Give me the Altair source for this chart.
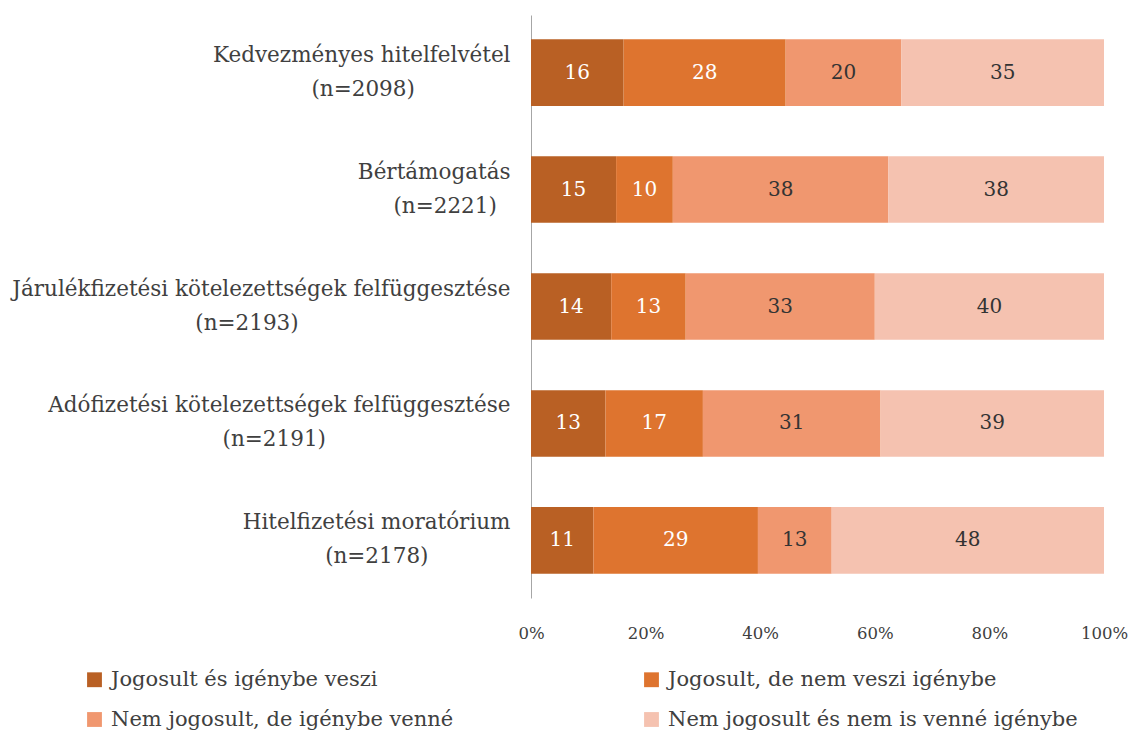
import altair as alt
import pandas as pd

categories = [
    "Kedvezményes hitelfelvétel|(n=2098)",
    "Bértámogatás|(n=2221)",
    "Járulékfizetési kötelezettségek felfüggesztése|(n=2193)",
    "Adófizetési kötelezettségek felfüggesztése|(n=2191)",
    "Hitelfizetési moratórium|(n=2178)",
]
series = [
    "Jogosult és igénybe veszi",
    "Jogosult, de nem veszi igénybe",
    "Nem jogosult, de igénybe venné",
    "Nem jogosult és nem is venné igénybe",
]
s1 = [16, 15, 14, 13, 11]
s2 = [28, 10, 13, 17, 29]
s3 = [20, 38, 33, 31, 13]
s4 = [35, 38, 40, 39, 48]
colors = ["#B96024", "#DE742F", "#F0976F", "#F5C2B0"]
x_ticks = [0, 0.2, 0.4, 0.6, 0.8, 1.0]

rows = []
for i, c in enumerate(categories):
    for j, vals in enumerate([s1, s2, s3, s4]):
        rows.append({"cat": c, "series": series[j], "order": j, "value": vals[i]})
df = pd.DataFrame(rows)

FONT = "DejaVu Serif"
TXT = "#404040"

base = alt.Chart(df).transform_stack(
    stack="value",
    groupby=["cat"],
    as_=["v0", "v1"],
    offset="normalize",
    sort=[alt.SortField("order", order="ascending")],
).transform_calculate(mid="(datum.v0 + datum.v1) / 2")

# two-line label: first line right-aligned, second line roughly centred under it
# (padded with no-break spaces, closed by a word joiner so the padding is kept)
L1 = "split(datum.label, '|')[0]"
L2 = "split(datum.label, '|')[1]"
label_expr = (
    f"[{L1}, pad({L2}, length({L2}) + max(0, round((length({L1}) * 0.53 - length({L2}) * 0.6) / 0.636)), "
    "'\u00a0', 'right') + '\u2060']"
)

y_enc = alt.Y(
    "cat:N",
    sort=categories,
    title=None,
    scale=alt.Scale(paddingInner=0.43, paddingOuter=0.207),
    axis=alt.Axis(
        labelExpr=label_expr,
        labelFont=FONT,
        labelFontSize=21.5,
        labelColor=TXT,
        labelLineHeight=34,
        labelPadding=21,
        labelOffset=-17,
        labelLimit=700,
        ticks=False,
        domainColor="#A6A6A6",
        domainWidth=1,
        grid=False,
    ),
)

bars = base.mark_bar().encode(
    x=alt.X(
        "v0:Q",
        title=None,
        scale=alt.Scale(domain=[0, 1], nice=False),
        axis=alt.Axis(
            format="%",
            values=x_ticks,
            labelFont=FONT,
            labelFontSize=16.5,
            labelColor=TXT,
            labelPadding=27,
            domain=False,
            ticks=False,
            grid=False,
            labelFlush=False,
        ),
    ),
    x2="v1:Q",
    y=y_enc,
    color=alt.Color(
        "series:N",
        scale=alt.Scale(domain=series, range=colors),
        legend=alt.Legend(
            title=None,
            orient="none",
            direction="horizontal",
            legendX=-447,
            legendY=654,
            columns=2,
            columnPadding=187,
            rowPadding=18,
            symbolType="square",
            symbolSize=220,
            symbolStrokeWidth=0,
            symbolOpacity=1,
            labelFont=FONT,
            labelFontSize=21,
            labelColor=TXT,
            labelOffset=6,
            labelLimit=700,
        ),
    ),
    order=alt.Order("order:Q"),
)

labels = base.mark_text(font=FONT, fontSize=20).encode(
    x=alt.X("mid:Q"),
    y=alt.Y("cat:N", sort=categories),
    text=alt.Text("value:Q"),
    color=alt.condition("datum.order < 2", alt.value("white"), alt.value("#333333")),
)

chart = (
    alt.layer(bars, labels)
    .properties(
        width=573,
        height=583,
        autosize=alt.AutoSizeParams(type="none"),
        padding={"left": 523, "top": 7, "right": 25, "bottom": 132},
    )
    .configure_view(stroke=None)
)

chart.save("out.html", embed_options={"renderer": "svg", "actions": False})
